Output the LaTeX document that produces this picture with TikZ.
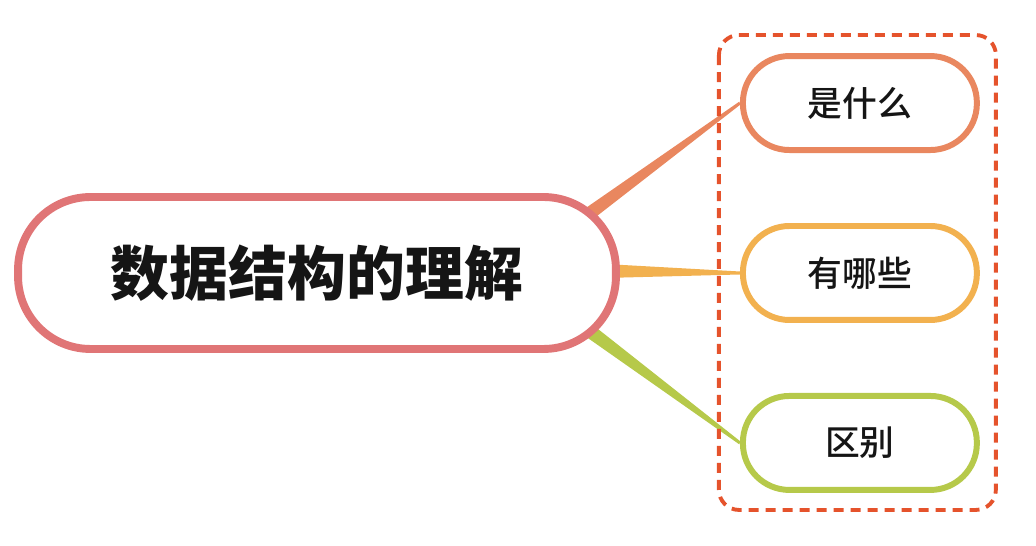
\documentclass[tikz,border=0pt]{standalone}
\usepackage{fontspec}
\newfontfamily\cjk{Noto Sans CJK SC}
\newfontfamily\cjkmid{Noto Sans CJK SC Medium}
\usetikzlibrary{positioning,calc,backgrounds}
\definecolor{topiccol}{HTML}{E07576}
\definecolor{whatcol}{HTML}{E9875F}
\definecolor{whichcol}{HTML}{F2B14F}
\definecolor{diffcol}{HTML}{B6C94A}
\definecolor{boxcol}{HTML}{E5532C}
\definecolor{inkcol}{HTML}{151515}

\begin{document}
\begin{tikzpicture}[x=0.02cm,y=-0.02cm,node distance=3.4cm,on grid,
  topic/.style={draw=topiccol,line width=4.5pt,fill=white,rounded corners=1.45cm,
    minimum width=11.96cm,minimum height=3.04cm,inner sep=0pt,text=inkcol,
    font=\cjk\bfseries\fontsize{33.5}{40}\selectfont},
  sub/.style={line width=3.4pt,fill=white,rounded corners=0.93cm,
    minimum width=4.68cm,minimum height=1.88cm,inner sep=0pt,text=inkcol,
    font=\cjkmid\fontsize{19.8}{24}\selectfont}]
  \useasboundingbox (0,0) rectangle (1036,546);
  \node[topic] (main) at (317,273) {数据结构的理解};
  \node[sub,draw=whichcol] (which) [right=10.86cm of main] {有哪些};
  \node[sub,draw=whatcol] (what) [above=of which] {是什么};
  \node[sub,draw=diffcol] (diff) [below=of which] {区别};
  % tapered branches
  \begin{scope}[on background layer]
    \coordinate (s1) at ($(main.east)+(-42,-51)$);
    \coordinate (s2) at ($(main.east)+(-15,-2)$);
    \coordinate (s3) at ($(main.east)+(-37,53)$);
    \foreach \s/\c/\col in {s1/what/whatcol,s2/which/whichcol,s3/diff/diffcol}
      \fill[\col] ($(\s)!0.14cm!90:(\c.west)$) -- ($(\c.west)!0.03cm!-90:(\s)$)
        -- ($(\c.west)!0.03cm!90:(\s)$) -- ($(\s)!0.14cm!-90:(\c.west)$) -- cycle;
  \end{scope}
  % group frame
  \draw[boxcol,line width=2.2pt,dash pattern=on 0.2cm off 0.14cm,rounded corners=0.4cm]
    ([shift={(-21,-18)}]what.north west) rectangle ([shift={(16,17)}]diff.south east);
\end{tikzpicture}
\end{document}
